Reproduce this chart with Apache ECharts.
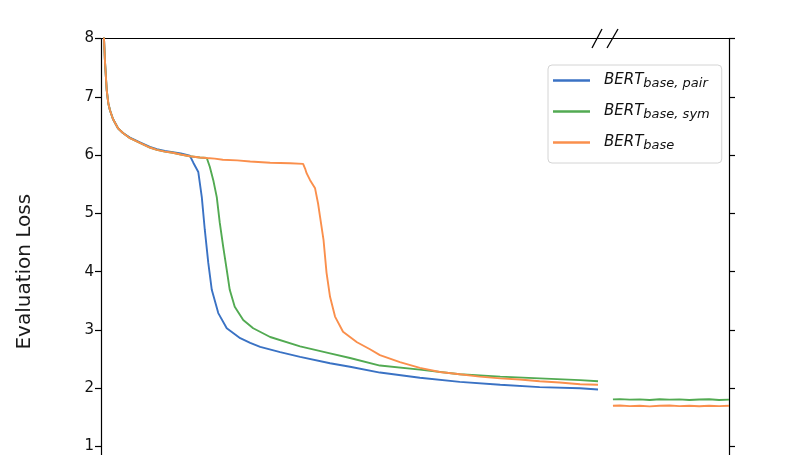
<!DOCTYPE html>
<html>
<head>
<meta charset="utf-8">
<script src="https://cdn.jsdelivr.net/npm/echarts@6/dist/echarts.min.js"></script>
<style>
html,body{margin:0;padding:0;background:#fff;}
#chart{width:808px;height:455px;}
</style>
</head>
<body>
<div id="chart"></div>
<script>
// ---- data ----
const seriesNames = ['BERT_base,pair', 'BERT_base,sym', 'BERT_base'];
const subscripts = ['base, pair', 'base, sym', 'base'];
const colors = ['#3a72c4', '#52aa52', '#fa8f4c'];
const yTicks = [0, 1, 2, 3, 4, 5, 6, 7, 8];

// left panel (training steps, arbitrary units)
const pairX = [0.2,0.6,0.8,1.14,1.46,1.8,2.4,3.4,4.4,5.8,7.8,9.8,11.2,12.8,14.4,16.0,17.8,18.5,19.5,20.2,20.8,21.5,22.2,23.5,25.2,27.9,29.9,31.9,35.9,39.9,45.9,49.9,55.9,63.9,71.9,80.0,87.9,96.0,99.6];
const pairY = [9.0,8.0,7.6,7.12,6.89,6.77,6.62,6.46,6.38,6.30,6.22,6.14,6.10,6.07,6.05,6.03,5.99,5.87,5.71,5.28,4.72,4.15,3.69,3.29,3.03,2.86,2.78,2.71,2.62,2.54,2.43,2.37,2.27,2.18,2.11,2.06,2.02,2.00,1.98];

const symX = [0.2,0.6,0.8,1.14,1.46,1.8,2.4,3.4,4.4,5.8,7.8,9.8,11.2,12.8,14.4,16.0,17.8,19.8,21.2,21.8,22.5,23.2,23.8,24.5,25.2,25.8,26.8,28.5,30.5,33.9,39.9,45.9,49.9,55.9,63.9,71.9,80.0,87.9,96.0,99.6];
const symY = [9.0,8.0,7.6,7.12,6.89,6.77,6.62,6.46,6.38,6.29,6.21,6.13,6.09,6.06,6.04,6.01,5.98,5.96,5.95,5.80,5.57,5.28,4.84,4.42,4.03,3.69,3.40,3.17,3.03,2.88,2.72,2.60,2.52,2.39,2.32,2.24,2.20,2.17,2.14,2.12];

const baseX = [0.2,0.6,0.8,1.14,1.46,1.8,2.4,3.4,4.4,5.8,7.8,9.8,11.2,12.8,14.4,16.0,17.8,19.8,21.2,22.8,24.4,27.3,29.9,33.9,37.9,40.5,40.9,41.2,41.9,42.9,43.5,43.9,44.6,45.2,45.9,46.9,48.5,51.3,53.9,55.9,59.9,63.9,67.9,71.9,75.9,80.0,83.9,87.9,91.9,96.0,99.6];
const baseY = [9.0,8.0,7.6,7.12,6.89,6.77,6.62,6.46,6.38,6.29,6.21,6.13,6.09,6.06,6.04,6.01,5.98,5.96,5.95,5.94,5.92,5.91,5.89,5.87,5.86,5.85,5.77,5.69,5.57,5.43,5.17,4.94,4.54,3.98,3.57,3.23,2.97,2.79,2.67,2.57,2.45,2.35,2.28,2.24,2.20,2.17,2.15,2.12,2.10,2.07,2.06];

// right panel (after the axis break)
const rightX = [0.6,2,4,6,8,10,12,14,16,18,20,22,24];
const symRightY = [1.81,1.815,1.805,1.81,1.80,1.812,1.805,1.81,1.80,1.808,1.812,1.80,1.805];
const baseRightY = [1.70,1.705,1.695,1.70,1.69,1.70,1.705,1.695,1.70,1.692,1.70,1.695,1.70];

// ---- chart ----
const FONT = 'DejaVu Sans';
const zip = (xs, ys) => xs.map((x, i) => [x, ys[i]]);
const chart = echarts.init(document.getElementById('chart'), null, {renderer: 'canvas'});

const axisLine = {show: true, onZero: false, lineStyle: {color: '#000', width: 1.2}};
const lineSeries = (name, data, color, gi) => ({
  name, type: 'line', data, xAxisIndex: gi, yAxisIndex: gi,
  symbol: 'none', showSymbol: false, clip: true, smooth: false,
  lineStyle: {color, width: 1.9}, itemStyle: {color}, z: 3
});

const option = {
  animation: false,
  backgroundColor: '#ffffff',
  textStyle: {fontFamily: FONT},
  grid: [
    {left: 101, top: 38.5, width: 504, height: 466.4, containLabel: false, outerBoundsMode: 'none'},
    {left: 605, top: 38.5, width: 124, height: 466.4, containLabel: false, outerBoundsMode: 'none'}
  ],
  xAxis: [
    {gridIndex: 0, type: 'value', position: 'top', min: 0, max: 101,
      axisLine, axisTick: {show: false}, axisLabel: {show: false}, splitLine: {show: false}},
    {gridIndex: 1, type: 'value', position: 'top', min: -1, max: 24,
      axisLine, axisTick: {show: false}, axisLabel: {show: false}, splitLine: {show: false}}
  ],
  yAxis: [
    {gridIndex: 0, type: 'value', position: 'left', min: yTicks[0], max: yTicks[yTicks.length - 1], interval: 1,
      name: 'Evaluation Loss', nameLocation: 'middle', nameGap: 66, nameRotate: 90, nameMoveOverlap: false,
      nameTextStyle: {fontSize: 20, color: '#1a1a1a', fontFamily: FONT},
      axisLine, axisTick: {show: true, inside: false, length: 6, lineStyle: {color: '#000', width: 1.2}},
      axisLabel: {show: true, fontSize: 15, color: '#111', margin: 7, fontFamily: FONT},
      splitLine: {show: false}},
    {gridIndex: 1, type: 'value', position: 'right', min: yTicks[0], max: yTicks[yTicks.length - 1], interval: 1,
      axisLine, axisTick: {show: true, inside: false, length: 6, lineStyle: {color: '#000', width: 1.2}},
      axisLabel: {show: false}, splitLine: {show: false}}
  ],
  legend: {
    orient: 'vertical', left: 548, top: 65,
    padding: [8, 12, 11, 5], itemWidth: 37, itemHeight: 2.5, itemGap: 14, icon: 'rect',
    backgroundColor: 'rgba(255,255,255,0.85)', borderColor: '#d4d4d4', borderWidth: 1, borderRadius: 4,
    data: seriesNames,
    formatter: n => '{m|BERT}{s|' + subscripts[seriesNames.indexOf(n)] + '}',
    textStyle: {
      padding: [0, 0, 0, 9],
      rich: {
        m: {fontSize: 15, fontStyle: 'italic', fontFamily: FONT, color: '#111', lineHeight: 19},
        s: {fontSize: 13, fontStyle: 'italic', fontFamily: FONT, color: '#111', lineHeight: 12, verticalAlign: 'bottom'}
      }
    }
  },
  graphic: [
    {type: 'line', shape: {x1: 592, y1: 48, x2: 602, y2: 29}, style: {stroke: '#000', lineWidth: 1.3}, z: 10},
    {type: 'line', shape: {x1: 607, y1: 48, x2: 618, y2: 29}, style: {stroke: '#000', lineWidth: 1.3}, z: 10}
  ],
  series: [
    lineSeries(seriesNames[0], zip(pairX, pairY), colors[0], 0),
    lineSeries(seriesNames[1], zip(symX, symY), colors[1], 0),
    lineSeries(seriesNames[2], zip(baseX, baseY), colors[2], 0),
    lineSeries(seriesNames[1], zip(rightX, symRightY), colors[1], 1),
    lineSeries(seriesNames[2], zip(rightX, baseRightY), colors[2], 1)
  ]
};
chart.setOption(option);
</script>
</body>
</html>
